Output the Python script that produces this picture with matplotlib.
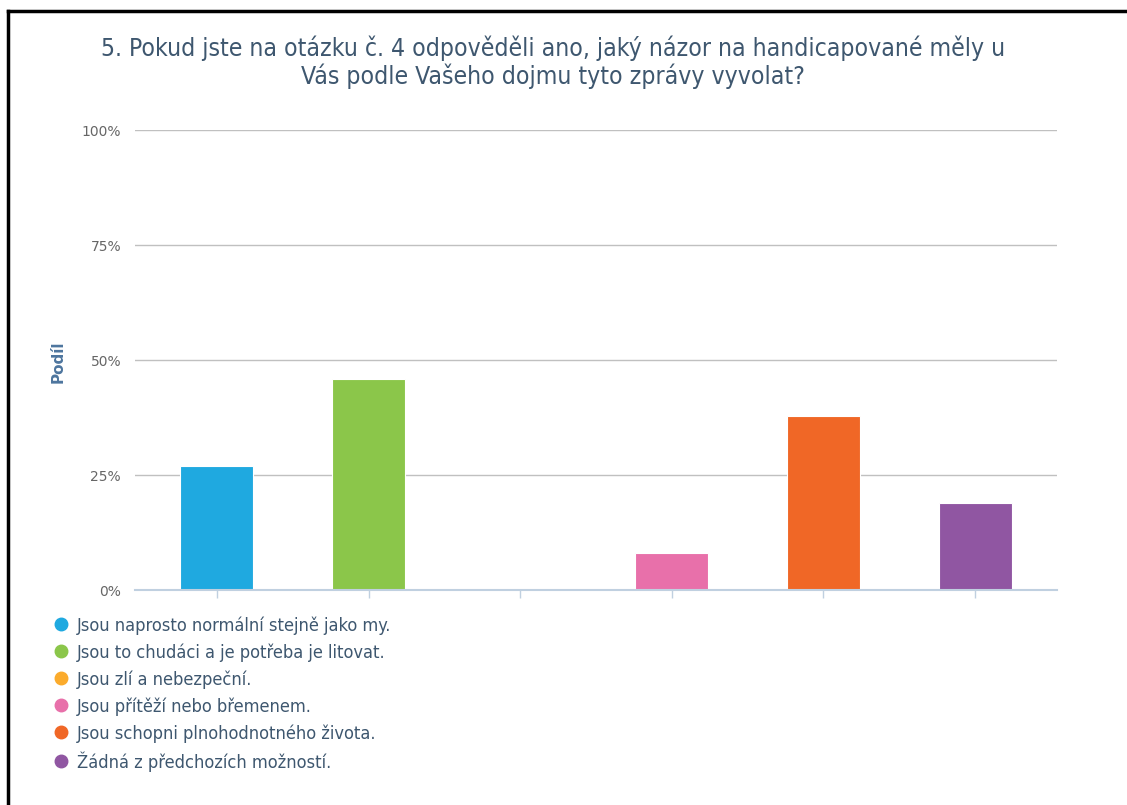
import matplotlib
matplotlib.use("Agg")
import matplotlib.pyplot as plt
from matplotlib.lines import Line2D
from matplotlib.ticker import FuncFormatter

plt.rcParams['font.family'] = ['DejaVu Sans']

# data
categories = [
    'Jsou naprosto normální stejně jako my.',
    'Jsou to chudáci a je potřeba je litovat.',
    'Jsou zlí a nebezpeční.',
    'Jsou přítěží nebo břemenem.',
    'Jsou schopni plnohodnotného života.',
    'Žádná z předchozích možností.',
]
shares = [27.0, 45.9, 0.0, 8.1, 37.8, 18.9]
colors = ['#1fa9e0', '#8bc64a', '#fbab2c', '#e870aa', '#f06726', '#9056a2']
yticks = [0, 25, 50, 75, 100]
title = ('5. Pokud jste na otázku č. 4 odpověděli ano, jaký názor na handicapované měly u\n'
         'Vás podle Vašeho dojmu tyto zprávy vyvolat?')

W, H = 1127, 805
fig = plt.figure(figsize=(W / 100, H / 100), dpi=100)

# ramecek (jen nahore a vlevo)
fig.add_artist(Line2D([8 / W, 8 / W], [0, 1 - 11 / H], color='black', lw=2.5))
fig.add_artist(Line2D([8 / W, 1], [1 - 11 / H, 1 - 11 / H], color='black', lw=2.5))

ax = fig.add_axes([135 / W, 1 - 590 / H, 922 / W, 460 / H])
x = range(len(categories))
ax.bar(x, shares, width=0.48, color=colors, edgecolor='white', linewidth=0.8, zorder=3)

ax.set_xlim(-0.54, 5.54)
ax.set_ylim(0, 100)
ax.set_yticks(yticks)
ax.yaxis.set_major_formatter(FuncFormatter(lambda v, p: '{:d}%'.format(int(v))))
ax.tick_params(axis='y', length=0, labelsize=10, labelcolor='#666666', pad=10)
ax.set_xticks(list(x))
ax.set_xticklabels([])
ax.tick_params(axis='x', length=6, color='#c0d0e0', width=1)
ax.grid(axis='y', color='#c0c0c0', linewidth=1, zorder=0)
for s in ['top', 'right', 'left']:
    ax.spines[s].set_visible(False)
ax.spines['bottom'].set_color('#c0d0e0')
ax.spines['bottom'].set_linewidth(1.5)
ax.spines['bottom'].set_zorder(4)

fig.text(58 / W, 1 - 362 / H, 'Podíl', rotation=90, fontsize=11, fontweight='bold',
         color='#4d759e', ha='center', va='center')

fig.text(553 / W, 1 - 62 / H, title, fontsize=17.7, fontstretch='condensed', color='#3e576f',
         ha='center', va='center', linespacing=1.12)

handles = [Line2D([], [], marker='o', linestyle='', markersize=9, color=c) for c in colors]
leg = fig.legend(handles, categories, loc='upper left', bbox_to_anchor=(55 / W, 1 - 616 / H),
                 frameon=False, fontsize=13.1, labelcolor='#3e576f', handlelength=0.7,
                 handletextpad=0.5, labelspacing=0.47, borderpad=0, borderaxespad=0)
for t in leg.get_texts():
    t.set_fontstretch('condensed')

fig.savefig('out.png', dpi=100)
